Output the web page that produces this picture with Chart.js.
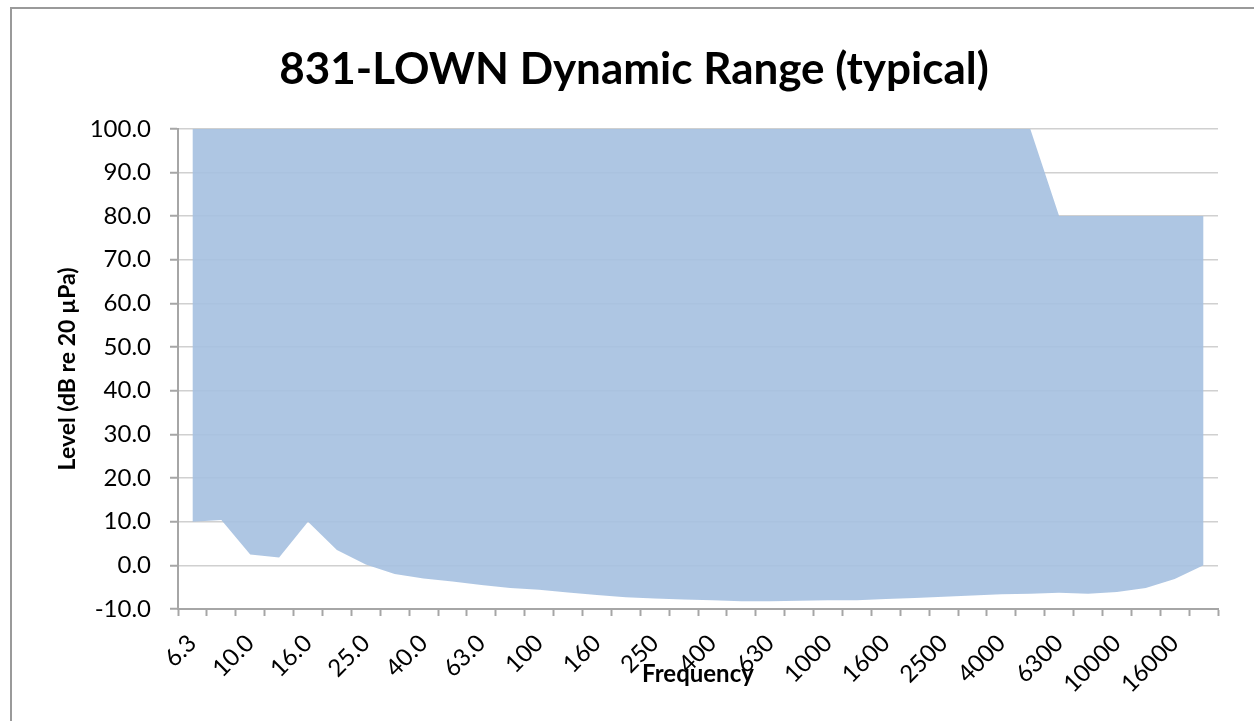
<!DOCTYPE html>
<html>
<head>
<meta charset="utf-8">
<script src="https://cdn.jsdelivr.net/npm/chart.js@4.4.0/dist/chart.umd.min.js"></script>
<style>
  html, body { margin: 0; padding: 0; background: #fff; }
  #wrap { width: 1254px; height: 721px; }
</style>
</head>
<body>
<div id="wrap"><canvas id="myChart1" width="1254" height="721"></canvas></div>
<script>
// Frecuencias (bandas de tercio de octava)
var frecuencias = ['6.3', '8.0', '10.0', '12.5', '16.0', '20.0', '25.0', '31.5', '40.0', '50.0',
    '63.0', '80.0', '100', '125', '160', '200', '250', '315', '400', '500',
    '630', '800', '1000', '1250', '1600', '2000', '2500', '3150', '4000', '5000',
    '6300', '8000', '10000', '12500', '16000', '20000'];

// Piso de ruido (limite inferior)
var limite_inferior = [10.0, 10.4, 2.5, 1.8, 10.0, 3.5, 0.2, -2.0, -3.0, -3.7,
    -4.5, -5.2, -5.6, -6.2, -6.8, -7.3, -7.6, -7.8, -8.0, -8.2,
    -8.2, -8.1, -8.0, -8.0, -7.7, -7.5, -7.2, -6.9, -6.6, -6.5,
    -6.25, -6.5, -6.1, -5.2, -3.1, 0.0];

// Limite superior
var limite_superior = [100, 100, 100, 100, 100, 100, 100, 100, 100, 100,
    100, 100, 100, 100, 100, 100, 100, 100, 100, 100,
    100, 100, 100, 100, 100, 100, 100, 100, 100, 100,
    80, 80, 80, 80, 80, 80];

// Marcas del eje Y
var y_min = -10;
var y_max = 100;
var y_paso = 10;

var gris_eje = '#a6a6a6';
var gris_rejilla = '#d0d0d0';

// Fondo blanco y marco del grafico
var marco = {
    id: 'marco',
    beforeDraw: function(chart) {
        var c = chart.ctx;
        c.save();
        c.fillStyle = '#fff';
        c.fillRect(0, 0, chart.width, chart.height);
        c.strokeStyle = '#9a9a9a';
        c.lineWidth = 2;
        c.beginPath();
        c.moveTo(11, chart.height);
        c.lineTo(11, 8);
        c.lineTo(chart.width, 8);
        c.stroke();
        c.restore();
    }
};

var data1 = {
    labels: frecuencias,
    datasets: [{
        label: 'Piso',
        data: limite_inferior,
        borderWidth: 0,
        pointRadius: 0,
        fill: false,
        backgroundColor: 'rgba(0,0,0,0)',
        borderColor: 'rgba(0,0,0,0)'
    }, {
        label: 'Rango',
        data: limite_superior,
        borderWidth: 0,
        pointRadius: 0,
        fill: '-1',
        backgroundColor: 'rgba(165, 192, 224, 0.9)',
        borderColor: 'rgba(0,0,0,0)'
    }]
};

var options1 = {
    responsive: false,
    animation: false,
    layout: {
        padding: { left: 50, right: 36, top: 0, bottom: 0 }
    },
    plugins: {
        legend: { display: false },
        tooltip: { enabled: false },
        title: {
            display: true,
            text: '831-LOWN Dynamic Range (typical)',
            color: '#000',
            font: { family: 'Lato', size: 44, weight: 'bold' },
            padding: { top: 43, bottom: 33 }
        }
    },
    scales: {
        x: {
            offset: true,
            afterFit: function(scale) { scale.height = 112; },
            grid: {
                offset: true,
                drawOnChartArea: false,
                drawTicks: true,
                tickLength: 7,
                tickColor: gris_eje,
                tickWidth: 2
            },
            border: { color: gris_eje, width: 2 },
            ticks: {
                autoSkip: false,
                maxRotation: 45,
                minRotation: 45,
                padding: 13,
                color: '#000',
                font: { family: 'Lato', size: 24 },
                callback: function(value, index) {
                    return index % 2 === 0 ? frecuencias[index] : '';
                }
            },
            title: {
                display: true,
                text: 'Frequency',
                color: '#000',
                font: { family: 'Lato', size: 24, weight: 'bold' },
                padding: { top: 0, bottom: 32 }
            }
        },
        y: {
            min: y_min,
            max: y_max,
            afterFit: function(scale) { scale.width = 128; },
            grid: {
                color: gris_rejilla,
                lineWidth: 1.5,
                tickLength: 8,
                tickColor: gris_eje,
                tickWidth: 2
            },
            border: { color: gris_eje, width: 2 },
            ticks: {
                stepSize: y_paso,
                padding: 19,
                color: '#000',
                font: { family: 'Lato', size: 24 },
                callback: function(value) { return value.toFixed(1); }
            },
            title: {
                display: true,
                text: 'Level (dB re 20 µPa)',
                color: '#000',
                font: { family: 'Lato', size: 23, weight: 'bold' },
                padding: { top: 4, bottom: 0 }
            }
        }
    }
};

var ctx1 = document.getElementById('myChart1').getContext('2d');
var myChart1 = new Chart(ctx1, {
    type: 'line',
    data: data1,
    options: options1,
    plugins: [marco]
});
</script>
</body>
</html>
